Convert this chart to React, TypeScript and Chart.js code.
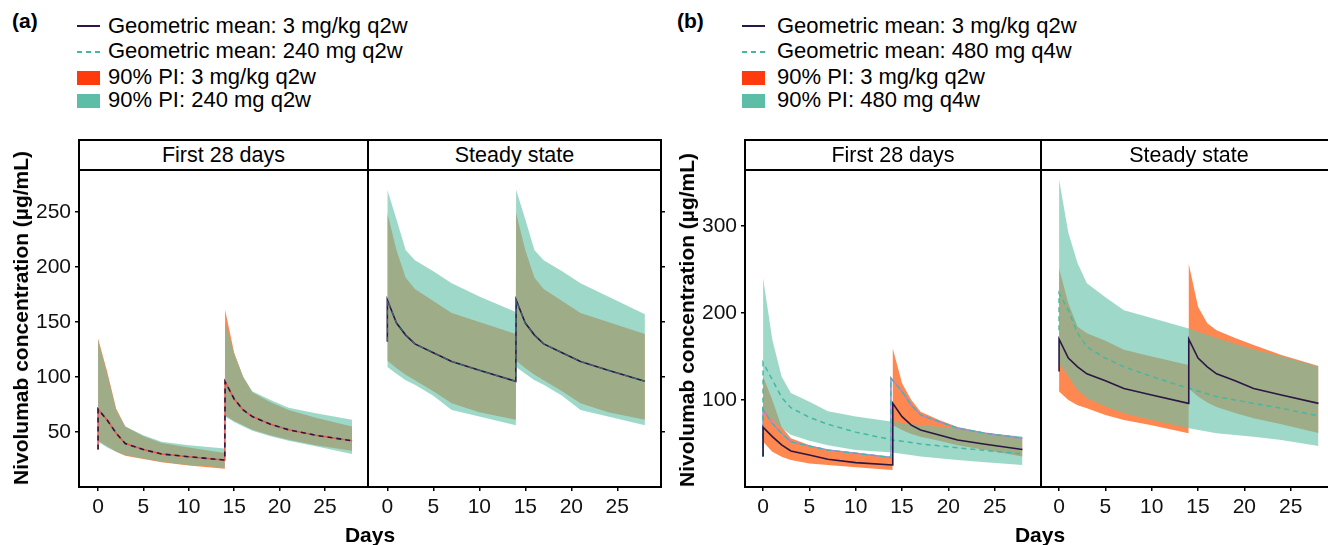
import React, { useEffect, useRef } from "react";
import { Chart, registerables } from "chart.js";

Chart.register(...registerables);

// ---------------- DATA ----------------
const xTickValues = [0, 5, 10, 15, 20, 25];
const yTicksA = [50, 100, 150, 200, 250];
const yTicksB = [100, 200, 300];

// sampling days for q2w dosing (doses at day 0 and day 14)
const daysQ2W = [0, 1, 2, 3, 5, 7, 10, 13.97, 14, 15, 16, 17, 19, 21, 24, 28];
// sampling days for q4w dosing (dose at day 0 only)
const daysQ4W = [0, 1, 2, 3, 5, 7, 10, 14, 17, 21, 24, 28];
// sampling days for the extra (unlabelled) line in panel b
const daysExtraB = [0, 1, 2, 3, 5, 7, 10, 13.77, 13.8, 15, 16, 17, 19, 21, 24, 28];

// Panel (a) – First 28 days
const a1MeanStart = 34;
const a1Mean = [70.6, 60.9, 48.8, 39.5, 34, 30, 27.5, 24.5, 95.7, 80, 70, 64, 57, 52, 47, 42];
const a1Pi3mgUpper = [135, 105, 71, 55, 46, 40, 36, 31, 161, 122, 100, 86, 77, 70, 63, 55];
const a1Pi3mgLower = [42, 37, 32, 28.5, 25.5, 22.5, 19.5, 16.5, 65, 60, 56, 52, 47, 43, 38, 33];
const a1Pi240Upper = [133, 103, 70, 55, 47, 41, 38, 35, 150, 121, 100, 87, 79, 72, 67, 61];
const a1Pi240Lower = [41, 36, 32, 29, 26, 23, 20, 18, 64, 59, 55, 51, 46, 42, 37, 30];

// Panel (a) – Steady state
const a2MeanStart = 132;
const a2Mean = [170, 149, 138, 130, 122, 114, 106, 96, 170, 149, 138, 130, 122, 114, 106, 96];
const a2Pi3mgUpper = [249, 215, 190, 180, 169, 158, 150, 139, 249, 215, 190, 180, 169, 158, 150, 139];
const a2Pi3mgLower = [115, 108, 102, 97, 87, 76, 68, 61, 115, 108, 102, 97, 87, 76, 68, 61];
const a2Pi240Upper = [270, 243, 215, 206, 196, 185, 173, 159, 270, 243, 215, 206, 196, 185, 173, 157];
const a2Pi240Lower = [109, 103, 97, 93, 83, 70, 64, 56, 109, 103, 97, 93, 83, 70, 64, 56];

// Panel (b) – First 28 days
const b1MeanStart = 35;
const b1Mean = [68.6, 57.8, 48.3, 41.4, 36.8, 31.8, 28, 25.3, 96, 80.8, 71, 65.5, 59.8, 54, 49, 43];
const b1Pi3mgUpper = [127, 100, 69, 56, 48, 42.5, 38.7, 33.7, 159, 119, 100, 86.5, 77, 69, 62.4, 56.7];
const b1Pi3mgLower = [52, 40.6, 34.8, 31, 27, 25.3, 22.6, 19.5, 71, 65.5, 61, 57.8, 53, 48, 42.5, 35];
const b1Mean480Start = 35;
const b1Mean480 = [143, 123, 103, 91, 80, 72, 63, 54, 49.5, 45, 42, 38];
const b1Pi480Upper = [240, 169, 127, 108, 98, 87, 81, 75, 71, 67.5, 62, 58];
const b1Pi480Lower = [90, 77, 67.5, 60, 53, 48, 42.5, 39.5, 35, 31, 28.4, 25.3];
const b1ExtraStart = 35;
const b1Extra = [89, 73, 61.7, 52, 47, 42.5, 38.7, 34, 125, 109.6, 94, 82.8, 75, 67.5, 61.7, 56];

// Panel (b) – Steady state
const b2MeanStart = 132.6;
const b2Mean = [169.7, 148, 138, 130, 122, 113, 105.7, 96, 169.7, 148, 138, 130, 122, 113, 105.7, 96];
const b2Pi3mgUpper = [251, 211, 184, 176.6, 168, 157.5, 149.8, 140, 256, 207, 188, 180, 171, 163, 151.7, 139];
const b2Pi3mgLower = [109.6, 100, 94, 90.4, 82.8, 77, 71, 61.7, 113, 104, 97, 92, 85, 79, 72, 62];
const b2Mean480Start = 180;
const b2Mean480 = [222.6, 203, 176.6, 161, 148, 138, 126.8, 113.4, 103.8, 96, 90.4, 81.6];
const b2Pi480Upper = [353, 292, 257, 234, 218, 203, 194, 182, 171, 158, 150, 138];
const b2Pi480Lower = [142, 127, 111.5, 102, 92.3, 84.7, 77, 67.5, 61.7, 57.8, 54, 47];

// ---------------- STYLE ----------------
const FONT = "'Liberation Sans', Arial, Helvetica, sans-serif";
const DARK = "#2a1745";
const TEAL_LINE = "#45b8a2";
const RED_LINE = "#ec5a4e";
const PURPLE_LINE = "#a88ad8";
const ORANGE_FILL = "rgba(255,90,12,0.72)";
const TEAL_FILL = "rgba(101,193,168,0.63)";
const ORANGE_KEY = "#ff3a0c";
const TEAL_KEY = "#5dbea8";

const PLOT_TOP = 170;
const PLOT_BOTTOM = 487;

type Band = { days: number[]; upper: number[]; lower: number[]; color: string };
type Line = { days: number[]; values: number[]; start?: number; color: string; width: number; dash?: number[] };
type FacetSpec = {
  left: number;
  right: number;
  xMin: number;
  xMax: number;
  yMax: number;
  yTicks: number[];
  showY: boolean;
  rightTicks: boolean;
  bands: Band[];
  lines: Line[];
};

const pts = (days: number[], vals: number[], start?: number) => {
  const p = days.map((d, i) => ({ x: d, y: vals[i] }));
  if (start !== undefined) p.unshift({ x: days[0], y: start });
  return p;
};

const facets: FacetSpec[] = [
  {
    left: 79, right: 368, xMin: -2.1, xMax: 29.75, yMax: 288, yTicks: yTicksA, showY: true, rightTicks: false,
    bands: [
      { days: daysQ2W, upper: a1Pi3mgUpper, lower: a1Pi3mgLower, color: ORANGE_FILL },
      { days: daysQ2W, upper: a1Pi240Upper, lower: a1Pi240Lower, color: TEAL_FILL },
    ],
    lines: [
      { days: daysQ2W, values: a1Mean, start: a1MeanStart, color: RED_LINE, width: 1.6 },
      { days: daysQ2W, values: a1Mean, start: a1MeanStart, color: DARK, width: 1.6, dash: [5, 4] },
    ],
  },
  {
    left: 368, right: 661, xMin: -2.1, xMax: 29.75, yMax: 288, yTicks: yTicksA, showY: false, rightTicks: true,
    bands: [
      { days: daysQ2W, upper: a2Pi3mgUpper, lower: a2Pi3mgLower, color: ORANGE_FILL },
      { days: daysQ2W, upper: a2Pi240Upper, lower: a2Pi240Lower, color: TEAL_FILL },
    ],
    lines: [
      { days: daysQ2W, values: a2Mean, start: a2MeanStart, color: DARK, width: 1.6 },
      { days: daysQ2W, values: a2Mean, start: a2MeanStart, color: "rgba(69,184,162,0.6)", width: 1, dash: [5, 4] },
    ],
  },
  {
    left: 745, right: 1041, xMin: -1.95, xMax: 30, yMax: 364, yTicks: yTicksB, showY: true, rightTicks: false,
    bands: [
      { days: daysQ2W, upper: b1Pi3mgUpper, lower: b1Pi3mgLower, color: ORANGE_FILL },
      { days: daysQ4W, upper: b1Pi480Upper, lower: b1Pi480Lower, color: TEAL_FILL },
    ],
    lines: [
      { days: daysExtraB, values: b1Extra, start: b1ExtraStart, color: PURPLE_LINE, width: 1.6 },
      { days: daysExtraB, values: b1Extra, start: b1ExtraStart, color: TEAL_LINE, width: 1.4, dash: [5, 4] },
      { days: daysQ4W, values: b1Mean480, start: b1Mean480Start, color: TEAL_LINE, width: 1.5, dash: [5, 4] },
      { days: daysQ2W, values: b1Mean, start: b1MeanStart, color: DARK, width: 1.6 },
    ],
  },
  {
    left: 1041, right: 1337, xMin: -1.95, xMax: 30, yMax: 364, yTicks: yTicksB, showY: false, rightTicks: false,
    bands: [
      { days: daysQ2W, upper: b2Pi3mgUpper, lower: b2Pi3mgLower, color: ORANGE_FILL },
      { days: daysQ4W, upper: b2Pi480Upper, lower: b2Pi480Lower, color: TEAL_FILL },
    ],
    lines: [
      { days: daysQ4W, values: b2Mean480, start: b2Mean480Start, color: TEAL_LINE, width: 1.5, dash: [5, 4] },
      { days: daysQ2W, values: b2Mean, start: b2MeanStart, color: DARK, width: 1.6 },
    ],
  },
];

const framePlugin = {
  id: "frame",
  afterDraw(chart: any) {
    const { ctx, chartArea } = chart;
    const { left, top, right, bottom } = chartArea;
    ctx.save();
    ctx.strokeStyle = "#000";
    ctx.lineWidth = 2;
    ctx.strokeRect(left, top, right - left, bottom - top);
    ctx.restore();
  },
};

const Y_AXIS_W = 70;
const X_AXIS_H = 40;

function Facet({ spec }: { spec: FacetSpec }) {
  const ref = useRef<HTMLCanvasElement>(null);
  const leftExtra = spec.showY ? Y_AXIS_W : 4;
  const rightExtra = spec.rightTicks ? 10 : 4;
  const W = leftExtra + (spec.right - spec.left) + rightExtra;
  const H = 2 + (PLOT_BOTTOM - PLOT_TOP) + X_AXIS_H;

  useEffect(() => {
    const datasets: any[] = [];
    let order = 100;
    spec.bands.forEach((b) => {
      datasets.push({
        data: pts(b.days, b.lower), borderWidth: 0, borderColor: "rgba(0,0,0,0)",
        pointRadius: 0, fill: false, order,
      });
      datasets.push({
        data: pts(b.days, b.upper), borderWidth: 0, borderColor: "rgba(0,0,0,0)",
        pointRadius: 0, fill: "-1", backgroundColor: b.color, order,
      });
      order--;
    });
    spec.lines.forEach((l) => {
      datasets.push({
        data: pts(l.days, l.values, l.start), borderColor: l.color, borderWidth: l.width,
        borderDash: l.dash || [], pointRadius: 0, fill: false, tension: 0, order: order--,
      });
    });

    const tickFont = { family: FONT, size: 21 };
    const setTicks = (vals: number[]) => (axis: any) => {
      axis.ticks = vals.map((v) => ({ value: v }));
    };
    const scales: any = {
      x: {
        type: "linear", min: spec.xMin, max: spec.xMax,
        afterBuildTicks: setTicks(xTickValues),
        afterFit: (ax: any) => { ax.height = X_AXIS_H; ax.paddingLeft = 0; ax.paddingRight = 0; },
        grid: { drawOnChartArea: false, drawTicks: true, tickLength: 4, color: "#000", lineWidth: 1.5 },
        border: { display: false },
        ticks: { font: tickFont, color: "#111", padding: 4, maxRotation: 0, autoSkip: false },
      },
      y: {
        type: "linear", min: 0, max: spec.yMax, display: spec.showY,
        afterBuildTicks: setTicks(spec.yTicks),
        afterFit: (ax: any) => { ax.width = spec.showY ? Y_AXIS_W : 0; ax.paddingTop = 0; ax.paddingBottom = 0; },
        grid: { drawOnChartArea: false, drawTicks: true, tickLength: 4, color: "#000", lineWidth: 1.5 },
        border: { display: false },
        ticks: { font: tickFont, color: "#111", padding: 4, autoSkip: false },
      },
    };
    if (spec.rightTicks) {
      scales.y2 = {
        type: "linear", position: "right", min: 0, max: spec.yMax,
        afterBuildTicks: setTicks(spec.yTicks),
        afterFit: (ax: any) => { ax.width = 10; ax.paddingTop = 0; ax.paddingBottom = 0; },
        grid: { drawOnChartArea: false, drawTicks: true, tickLength: 4, color: "#000", lineWidth: 1.5 },
        border: { display: false },
        ticks: { display: false },
      };
    }

    const chart = new Chart(ref.current as HTMLCanvasElement, {
      type: "line",
      data: { datasets },
      options: {
        responsive: false,
        animation: false,
        events: [],
        layout: {
          autoPadding: false,
          padding: { left: spec.showY ? 0 : 4, right: spec.rightTicks ? 0 : 4, top: 2, bottom: 0 },
        },
        plugins: { legend: { display: false }, tooltip: { enabled: false } },
        scales,
      } as any,
      plugins: [framePlugin],
    });
    return () => chart.destroy();
  }, []);

  return (
    <canvas
      ref={ref}
      width={W}
      height={H}
      style={{ position: "absolute", left: spec.left - leftExtra, top: PLOT_TOP - 2, width: W, height: H }}
    />
  );
}

const txt: React.CSSProperties = {
  position: "absolute",
  fontFamily: FONT,
  fontSize: 21,
  color: "#000",
  whiteSpace: "nowrap",
  lineHeight: "24px",
};

function LegendBlock({ label, symX, textX, items }: { label: string; symX: number; textX: number; items: { kind: string; color: string; text: string }[] }) {
  const centers = [26, 51, 77, 100];
  return (
    <>
      <div style={{ ...txt, left: symX - 65, top: 9, fontWeight: "bold" }}>{label}</div>
      {items.map((it, i) => {
        const c = centers[i];
        let sym: React.ReactNode = null;
        if (it.kind === "line") {
          sym = <div style={{ position: "absolute", left: symX, top: c - 1, width: 23, height: 2, background: it.color }} />;
        } else if (it.kind === "dash") {
          sym = (
            <div style={{ position: "absolute", left: symX, top: c, width: 23, height: 2,
              background: `repeating-linear-gradient(to right, ${it.color} 0px, ${it.color} 5px, transparent 5px, transparent 9px)` }} />
          );
        } else {
          sym = <div style={{ position: "absolute", left: symX, top: c - 6, width: 23, height: 14, background: it.color }} />;
        }
        return (
          <React.Fragment key={i}>
            {sym}
            <div style={{ ...txt, fontSize: 22, left: textX, top: c - 12 }}>{it.text}</div>
          </React.Fragment>
        );
      })}
    </>
  );
}

function Strip({ left, right, text }: { left: number; right: number; text: string }) {
  return (
    <div style={{ position: "absolute", left: left - 1, top: 139, width: right - left + 2, height: 32,
      border: "2px solid #000", boxSizing: "border-box", fontFamily: FONT, fontSize: 21.5,
      textAlign: "center", lineHeight: "28px", color: "#000", background: "#fff", whiteSpace: "nowrap", overflow: "hidden" }}>
      {text}
    </div>
  );
}

function YTitle({ cx, cy }: { cx: number; cy: number }) {
  return (
    <div style={{ ...txt, left: cx, top: cy, fontWeight: "bold", transform: "translate(-50%, -50%) rotate(-90deg)" }}>
      Nivolumab concentration (µg/mL)
    </div>
  );
}

function XTitle({ cx }: { cx: number }) {
  return (
    <div style={{ ...txt, left: cx, top: 535, fontWeight: "bold", transform: "translate(-50%, -50%)" }}>Days</div>
  );
}

export default function App() {
  return (
    <div style={{ position: "fixed", left: 0, top: 0, width: 1328, height: 545, overflow: "hidden", background: "#fff" }}>
      <LegendBlock
        label="(a)" symX={77} textX={108}
        items={[
          { kind: "line", color: DARK, text: "Geometric mean: 3 mg/kg q2w" },
          { kind: "dash", color: TEAL_LINE, text: "Geometric mean: 240 mg q2w" },
          { kind: "rect", color: ORANGE_KEY, text: "90% PI: 3 mg/kg q2w" },
          { kind: "rect", color: TEAL_KEY, text: "90% PI: 240 mg q2w" },
        ]}
      />
      <LegendBlock
        label="(b)" symX={742} textX={777}
        items={[
          { kind: "line", color: DARK, text: "Geometric mean: 3 mg/kg q2w" },
          { kind: "dash", color: TEAL_LINE, text: "Geometric mean: 480 mg q4w" },
          { kind: "rect", color: ORANGE_KEY, text: "90% PI: 3 mg/kg q2w" },
          { kind: "rect", color: TEAL_KEY, text: "90% PI: 480 mg q4w" },
        ]}
      />
      {facets.map((f, i) => (
        <Facet key={i} spec={f} />
      ))}
      <Strip left={79} right={368} text="First 28 days" />
      <Strip left={368} right={661} text="Steady state" />
      <Strip left={745} right={1041} text="First 28 days" />
      <Strip left={1041} right={1337} text="Steady state" />
      <YTitle cx={21} cy={318} />
      <YTitle cx={687} cy={320} />
      <XTitle cx={370} />
      <XTitle cx={1040} />
    </div>
  );
}
